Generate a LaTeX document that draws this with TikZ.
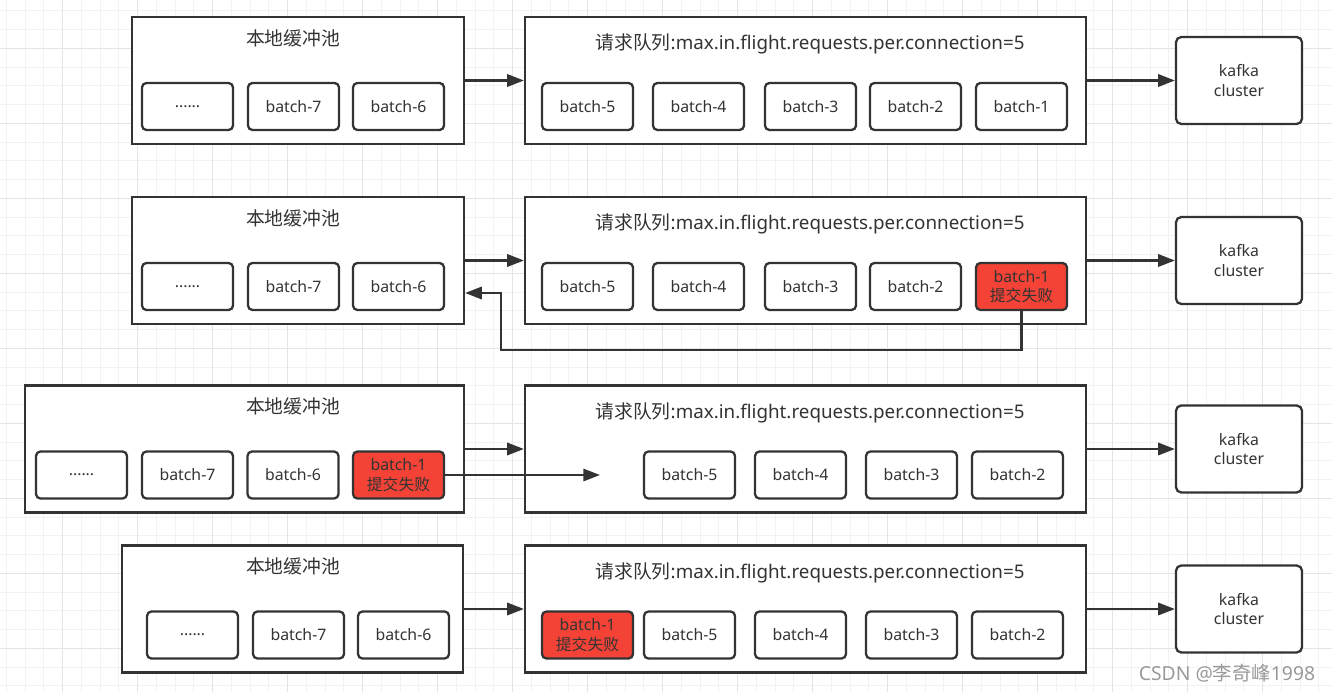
\documentclass[tikz,border=0pt]{standalone}
\usepackage{fontspec}
\setmainfont{Noto Sans}
\newfontfamily\cjk{Noto Sans CJK SC}
\usetikzlibrary{arrows.meta}
\definecolor{ink}{HTML}{333333}
\definecolor{fail}{HTML}{F44336}
\definecolor{minorgrid}{HTML}{F2F2F2}
\definecolor{majorgrid}{HTML}{E4E4E4}

\begin{document}
\begin{tikzpicture}[x=0.02cm,y=-0.02cm,
  pool/.style={draw=ink,line width=1.3pt,minimum height=2.54cm,fill=white},
  batch/.style={draw=ink,line width=1.3pt,rounded corners=2.5pt,minimum width=1.82cm,minimum height=0.94cm,fill=white,text=ink,font=\fontsize{9}{11}\selectfont,align=center,inner sep=0pt},
  failed/.style={batch,fill=fail},
  cluster/.style={draw=ink,line width=1.3pt,rounded corners=3pt,minimum width=2.52cm,minimum height=1.74cm,fill=white,text=ink,font=\fontsize{9}{11.3}\selectfont,align=center},
  title/.style={text=ink,font=\fontsize{10.7}{12}\selectfont,inner sep=0pt},
  flow/.style={draw=ink,line width=1.3pt,-{Triangle[length=9.5pt,width=7pt]}}]
\useasboundingbox (0,0) rectangle (1332,692);
\foreach \g in {0,...,70} \draw[minorgrid,line width=0.6pt] (6.45+18.75*\g,0) -- ++(0,692);
\foreach \g in {0,...,36} \draw[minorgrid,line width=0.6pt] (0,10.8+18.75*\g) -- ++(1332,0);
\foreach \g in {0,...,16} \draw[majorgrid,line width=0.6pt] (62.7+75*\g,0) -- ++(0,692);
\foreach \g in {0,...,8} \draw[majorgrid,line width=0.6pt] (0,48.3+75*\g) -- ++(1332,0);

\node[pool,minimum width=6.64cm] (pool1) at (298,80.5) {};
\node[title] (pt1) at (293,38) {\cjk 本地缓冲池};
\node[batch] (p1d) at (187.5,106.5) {......};
\node[batch] (p1b7) at (293.5,106.5) {batch-7};
\node[batch] (p1b6) at (398.5,106.5) {batch-6};
\node[pool,minimum width=11.22cm] (queue1) at (805.5,80.5) {};
\node[title] (qt1) at (810,44) {{\cjk 请求队列}:max.in.flight.requests.per.connection=5};
\node[batch] (q1b5) at (587.5,106.5) {batch-5};
\node[batch] (q1b4) at (698.5,106.5) {batch-4};
\node[batch] (q1b3) at (810.5,106.5) {batch-3};
\node[batch] (q1b2) at (915.5,106.5) {batch-2};
\node[batch] (q1b1) at (1021.5,106.5) {batch-1};
\node[cluster] (kafka1) at (1239,80.5) {kafka\\cluster};
\draw[flow] (pool1.east) -- (queue1.west);
\draw[flow] (queue1.east) -- (kafka1.west);

\node[pool,minimum width=6.64cm] (pool2) at (298,260.5) {};
\node[title] (pt2) at (293,218) {\cjk 本地缓冲池};
\node[batch] (p2d) at (187.5,286.5) {......};
\node[batch] (p2b7) at (293.5,286.5) {batch-7};
\node[batch] (p2b6) at (398.5,286.5) {batch-6};
\node[pool,minimum width=11.22cm] (queue2) at (805.5,260.5) {};
\node[title] (qt2) at (810,224) {{\cjk 请求队列}:max.in.flight.requests.per.connection=5};
\node[batch] (q2b5) at (587.5,286.5) {batch-5};
\node[batch] (q2b4) at (698.5,286.5) {batch-4};
\node[batch] (q2b3) at (810.5,286.5) {batch-3};
\node[batch] (q2b2) at (915.5,286.5) {batch-2};
\node[failed] (q2b1) at (1021.5,286.5) {batch-1\\{\cjk 提交失败}};
\node[cluster] (kafka2) at (1239,260.5) {kafka\\cluster};
\coordinate (back) at (501,293);
\draw[flow] (pool2.east) -- (queue2.west);
\draw[flow] (queue2.east) -- (kafka2.west);
\draw[flow] (q2b1.south) -- (q2b1.south |- 0,350) -| (back) -- (back -| pool2.east);

\node[pool,minimum width=8.78cm] (pool3) at (244.5,449) {};
\node[title] (pt3) at (293,406.5) {\cjk 本地缓冲池};
\node[batch] (p3d) at (81.5,475) {......};
\node[batch] (p3b7) at (187.5,475) {batch-7};
\node[batch] (p3b6) at (293,475) {batch-6};
\node[failed] (p3b1) at (398.5,475) {batch-1\\{\cjk 提交失败}};
\node[pool,minimum width=11.22cm] (queue3) at (805.5,449) {};
\node[title] (qt3) at (810,412.5) {{\cjk 请求队列}:max.in.flight.requests.per.connection=5};
\node[batch] (q3b5) at (689.5,475) {batch-5};
\node[batch] (q3b4) at (800.5,475) {batch-4};
\node[batch] (q3b3) at (911.5,475) {batch-3};
\node[batch] (q3b2) at (1017.5,475) {batch-2};
\node[cluster] (kafka3) at (1239,449) {kafka\\cluster};
\coordinate (slot) at (600,475);
\draw[flow] (pool3.east) -- (queue3.west);
\draw[flow] (queue3.east) -- (kafka3.west);
\draw[flow] (p3b1.east) -- (slot);

\node[pool,minimum width=6.82cm] (pool4) at (292.5,609) {};
\node[title] (pt4) at (293,566.5) {\cjk 本地缓冲池};
\node[batch] (p4d) at (192.5,635) {......};
\node[batch] (p4b7) at (298.5,635) {batch-7};
\node[batch] (p4b6) at (403.5,635) {batch-6};
\node[pool,minimum width=11.22cm] (queue4) at (805.5,609) {};
\node[title] (qt4) at (810,572.5) {{\cjk 请求队列}:max.in.flight.requests.per.connection=5};
\node[failed] (q4b1) at (587.5,635) {batch-1\\{\cjk 提交失败}};
\node[batch] (q4b5) at (689.5,635) {batch-5};
\node[batch] (q4b4) at (800.5,635) {batch-4};
\node[batch] (q4b3) at (911.5,635) {batch-3};
\node[batch] (q4b2) at (1017.5,635) {batch-2};
\node[cluster] (kafka4) at (1239,609) {kafka\\cluster};
\draw[flow] (pool4.east) -- (queue4.west);
\draw[flow] (queue4.east) -- (kafka4.west);

\node[text=gray!80,font=\fontsize{11}{12}\selectfont] (mark) at (1227,673) {CSDN @{\cjk 李奇峰}1998};
\end{tikzpicture}
\end{document}
